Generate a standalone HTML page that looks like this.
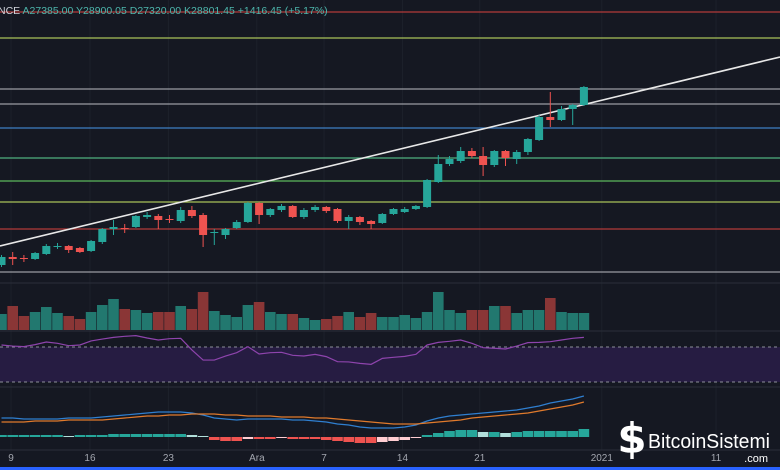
<!DOCTYPE html>
<html><head><meta charset="utf-8"><style>
body{margin:0;background:#151822;}
#wrap{position:relative;width:780px;height:470px;overflow:hidden;background:#151822;font-family:"Liberation Sans",sans-serif;}
svg{position:absolute;left:0;top:0}
</style></head><body>
<div id="wrap">
<svg id="chart" width="780" height="470"></svg>
</div>
<script>
const opens=[14640,15280,15200,15120,15520,16080,16160,16000,15760,16480,17520,17600,17680,18480,18560,18320,18160,19040,18640,17200,17040,17600,18080,19600,18640,19040,19360,18480,19040,19280,19120,18160,18480,18160,18000,18720,18880,19120,19280,21280,22720,22960,23760,23360,22640,23760,23120,23680,24640,26480,26240,27120,27440];
const highs=[15440,15680,15440,15680,16320,16400,16240,16080,16640,17600,18240,17920,18640,18880,18720,18640,19280,19360,18800,17520,17600,18240,19680,19680,19200,19520,19440,19200,19440,19360,19200,18640,18560,18240,18800,19200,19280,19440,21520,23440,23360,24080,24000,24080,23840,23840,23840,24800,26640,28480,27360,27520,28960];
const lows=[14480,14640,14880,15040,15440,15920,15600,15600,15680,16320,17040,17200,17600,18320,17520,18000,18000,18400,16080,16240,16720,17520,18000,17920,18480,18880,18400,18320,18880,18800,18000,17520,17840,17520,17920,18640,18800,19040,19200,21200,22560,22800,23200,21760,22480,22560,22720,23440,24560,25680,26160,25840,27360];
const closes=[15280,15120,15120,15600,16160,16160,15840,15680,16560,17520,17680,17560,18560,18640,18240,18280,19040,18560,17040,17280,17520,18080,19600,18640,19120,19360,18480,19040,19280,18960,18160,18480,18080,17920,18720,19120,19120,19360,21440,22720,23120,23760,23360,22640,23760,23200,23680,24720,26480,26240,27120,27440,28880];
const volumes=[16,24,14,18,23,17,14,11,18,25,31,21,20,17,18,18,24,21,38,19,15,13,25,28,18,16,16,12,10,11,14,18,13,17,13,13,15,12,18,38,20,17,20,20,24,24,17,20,20,32,18,17,17];
const rsi=[72.3,71.1,70.4,72.7,75.7,74.2,71.5,72.3,76.9,79.1,81.0,82.2,83.0,80.3,78.0,79.5,79.9,66.6,55.1,55.1,59.7,63.5,70.4,62.0,63.5,63.9,60.5,59.7,61.6,59.0,53.2,52.9,51.3,50.2,57.0,58.2,59.3,61.6,72.3,75.3,76.5,78.0,74.2,69.2,68.5,67.7,71.1,75.0,75.3,76.1,78.0,79.9,81.0];
const macd=[19,19,18,18,18,18,19,19,19,20,21,22,23,24,25,25,25,24,22,19,18,17,18,18,18,18,17,17,16,15,13,12,10,9,9,9,10,12,16,19,21,22,23,24,25,26,27,29,31,34,36,38,41];
const signal=[15,15,15,16,16,16,17,17,17,17,18,19,20,21,21,22,22,23,23,23,22,22,21,21,21,20,20,20,19,19,18,17,16,15,14,13,13,13,14,15,16,17,19,20,21,22,23,24,26,28,30,32,35];
const hist=[2,2,2,2,2,2,1,2,2,2,3,3,3,3,3,3,3,2,1,-3,-4,-4,-2,-2,-2,-1,-2,-2,-2,-3,-4,-5,-6,-6,-5,-4,-3,-1,2,4,6,7,7,5,5,4,5,6,6,6,6,6,8];
const levels=[34880,32800,28720,27520,25600,23200,21360,19680,17520,14080];
const levelColors=['#b23a3a','#a9c25a','#9a9ca3','#9a9ca3','#3f7fc4','#4fb07f','#5cb85c','#a9c25a','#b23a3a','#9a9ca3'];
const timeLabels=['9','16','23','Ara','7','14','21','2021','11'];
const timeIdx=[0.85,7.9,14.9,22.8,28.8,35.8,42.7,53.6,63.8];

const NS='http://www.w3.org/2000/svg';
const svg=document.getElementById('chart');
function el(t,a,p){const e=document.createElementNS(NS,t);for(const k in a)e.setAttribute(k,a[k]);(p||svg).appendChild(e);return e;}
const xS=i=>1.5+11.2*i;
const yP=p=>(35840-p)/80;
const yV=v=>330-v;
const yR=r=>347-(r-70)*0.875;
const yM=m=>437-m;
const teal='#26a69a', red='#ef5350';

timeIdx.forEach(t=>{const g=el('line',{x1:xS(t),x2:xS(t),y1:0,y2:450,stroke:'#1d212b','stroke-width':1});
});
[283,331,387,450].forEach(y=>{const s=el('line',{x1:0,x2:780,y1:y,y2:y,stroke:'#2a2e39','stroke-width':1});
});

levels.forEach((lv,i)=>{const l=el('line',{x1:0,x2:780,y1:yP(lv),y2:yP(lv),stroke:levelColors[i],'stroke-width':1.3});
});
const tl=el('line',{x1:0,y1:246,x2:780,y2:57,stroke:'#e8e8e8','stroke-width':1.6});


opens.forEach((o,i)=>{const c=closes[i],up=c>=o,col=up?teal:red,x=xS(i);
const g=el('g',{});
el('line',{x1:x,x2:x,y1:yP(highs[i]),y2:yP(lows[i]),stroke:col,'stroke-width':1},g);
const t=Math.min(yP(o),yP(c)),h=Math.max(1,Math.abs(yP(o)-yP(c)));
el('rect',{x:x-4,y:t,width:8,height:h,fill:col},g);});

volumes.forEach((v,i)=>{const up=closes[i]>=opens[i];
const r=el('rect',{x:xS(i)-5.3,y:yV(v),width:10.6,height:v,fill:up?'#22786f':'#8a3636'});
});

const band=el('rect',{x:0,y:yR(70),width:780,height:yR(30)-yR(70),fill:'#261c42'});

[70,30].forEach(v=>{const d=el('line',{x1:0,x2:780,y1:yR(v),y2:yR(v),stroke:'#8d8f99','stroke-dasharray':'3,3','stroke-width':1});
});
const rl=el('polyline',{points:rsi.map((r,i)=>xS(i)+','+yR(r)).join(' '),fill:'none',stroke:'#8e44ad','stroke-width':1.2});


hist.forEach((h,i)=>{const prev=i?hist[i-1]:h;let col;
if(h>=0)col=h>=prev?teal:'#b2dfdb';else col=h<=prev?red:'#ffcdd2';
const r=el('rect',{x:xS(i)-5.3,y:h>=0?yM(h):yM(0),width:10.6,height:Math.max(1,Math.abs(h)),fill:col});
});
const ml=el('polyline',{points:macd.map((m,i)=>xS(i)+','+yM(m)).join(' '),fill:'none',stroke:'#2f7fd0','stroke-width':1.2});

const sl=el('polyline',{points:signal.map((m,i)=>xS(i)+','+yM(m)).join(' '),fill:'none',stroke:'#e07a2c','stroke-width':1.2});


timeLabels.forEach((t,i)=>{const tx=el('text',{x:xS(timeIdx[i]),y:461,fill:'#a3a6af','font-size':10,'text-anchor':'middle','font-family':'Liberation Sans, sans-serif'});
tx.textContent=t;});
const bl=el('rect',{x:0,y:467,width:780,height:3,fill:'#2962ff'});


const hd=el('text',{x:-2,y:14,'font-size':10.5,fill:'#4db6ac','font-family':'Liberation Sans, sans-serif'});

hd.innerHTML='<tspan fill="#d1d4dc">NCE</tspan>  A27385.00  Y28900.05  D27320.00  K28801.45  +1416.45 (+5.17%)';

const wg=el('g',{});
const bs=el('text',{x:632,y:453,'font-size':42,'font-weight':'bold',fill:'#ffffff','text-anchor':'middle','font-family':'DejaVu Sans, sans-serif'},wg);bs.textContent='$';
const bt=el('text',{x:648,y:448,'font-size':20,fill:'#ffffff',textLength:122,lengthAdjust:'spacingAndGlyphs','font-family':'Liberation Sans, sans-serif'},wg);bt.textContent='BitcoinSistemi';
const bc=el('text',{x:768,y:462,'font-size':11,fill:'#ffffff','text-anchor':'end','font-family':'Liberation Sans, sans-serif'},wg);bc.textContent='.com';
</script>
</body></html>
